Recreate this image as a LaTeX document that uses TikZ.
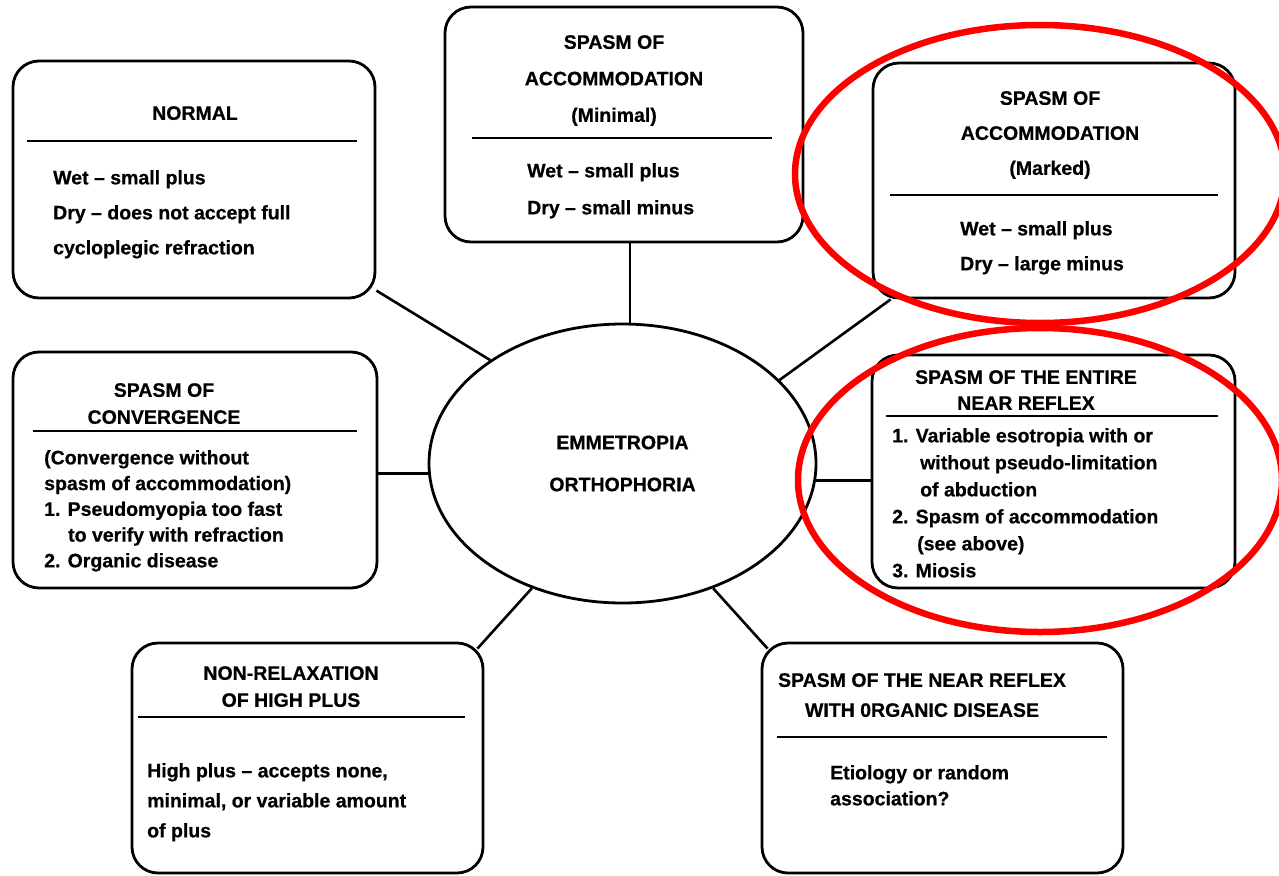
\documentclass[tikz,border=0pt]{standalone}
\usepackage{fontspec}
\setmainfont{Liberation Sans}[BoldFeatures={FakeBold=0.6}]
\usetikzlibrary{shapes.geometric}

\begin{document}
\begin{tikzpicture}[x=1pt,y=-1pt,
    card/.style={draw,line width=2.8pt,rounded corners=26pt,inner sep=0pt},
    head/.style={align=center,anchor=north,inner sep=0pt,font=\bfseries\fontsize{19.5}{#1}\selectfont},
    body/.style={align=left,anchor=north west,inner sep=0pt,font=\bfseries\fontsize{19.5}{#1}\selectfont},
    rule/.style={line width=2.6pt},
    link/.style={line width=2.6pt},
    redring/.style={draw=red,line width=6.5pt}
    ]
    \useasboundingbox[fill=white] (0,0) rectangle (1279,875);

    % centre
    \node[draw,ellipse,line width=2.8pt,minimum width=387pt,minimum height=279pt,inner sep=0pt,
      align=center,font=\bfseries\fontsize{19.5}{42}\selectfont] (emm) at (622.5,463.5) {EMMETROPIA\\ORTHOPHORIA};

    % boxes
    \node[card,minimum width=362pt,minimum height=237pt] (normal) at (194,179.5) {};
    \node[head=35] (normal-head) at (195,106) {NORMAL};
    \draw[rule] (27,141) -- (357,141);
    \node[body=35] (normal-body) at (53,170) {Wet -- small plus\\Dry -- does not accept full\\cycloplegic refraction};

    \node[card,minimum width=358pt,minimum height=235pt] (minimal) at (624,124.5) {};
    \node[head=36.5] (minimal-head) at (614,35) {SPASM OF\\ACCOMMODATION\\(Minimal)};
    \draw[rule] (472,138) -- (772,138);
    \node[body=37] (minimal-body) at (527,163) {Wet -- small plus\\Dry -- small minus};

    \node[card,minimum width=362pt,minimum height=235pt] (marked) at (1054,180.5) {};
    \node[head=35] (marked-head) at (1050,91) {SPASM OF\\ACCOMMODATION\\(Marked)};
    \draw[rule] (890,195) -- (1218,195);
    \node[body=35] (marked-body) at (960,221) {Wet -- small plus\\Dry -- large minus};

    \node[card,minimum width=364pt,minimum height=236pt] (conv) at (195,470) {};
    \node[head=27] (conv-head) at (164,383) {SPASM OF\\CONVERGENCE};
    \draw[rule] (33,431) -- (357,431);
    \node[body=25.75] (conv-body) at (44,450) {(Convergence without\\spasm of accommodation)\\1. Pseudomyopia too fast\\\hspace*{24pt}to verify with refraction\\2. Organic disease};

    \node[card,minimum width=363pt,minimum height=233pt] (entire) at (1053.5,471.5) {};
    \node[head=26] (entire-head) at (1026,370) {SPASM OF THE ENTIRE\\NEAR REFLEX};
    \draw[rule] (886,416) -- (1218,416);
    \node[body=27] (entire-body) at (892,428) {1. Variable esotropia with or\\\hspace*{28pt}without pseudo-limitation\\\hspace*{28pt}of abduction\\2. Spasm of accommodation\\\hspace*{25pt}(see above)\\3. Miosis};

    \node[card,minimum width=351pt,minimum height=230pt] (nonrelax) at (307.5,758) {};
    \node[head=27] (nonrelax-head) at (291,666) {NON-RELAXATION\\OF HIGH PLUS};
    \draw[rule] (138,717) -- (465,717);
    \node[body=30] (nonrelax-body) at (147,763) {High plus -- accepts none,\\minimal, or variable amount\\of plus};

    \node[card,minimum width=361pt,minimum height=230pt] (organic) at (942.5,758) {};
    \node[head=30] (organic-head) at (922,673) {SPASM OF THE NEAR REFLEX\\WITH 0RGANIC DISEASE};
    \draw[rule] (777,737) -- (1107,737);
    \node[body=26] (organic-body) at (830,765) {Etiology or random\\association?};

    % spokes
    \draw[link] (emm.142) -- (normal);
    \draw[link] ([xshift=6]minimal.south) -- ([xshift=6]minimal.south |- emm.north);
    \draw[link] (emm.28) -- (marked);
    \draw[link] (emm.183) -- (emm.183 -| conv.east);
    \draw[link] (emm.355) -- (emm.355 -| entire.west);
    \draw[link] (emm.234) -- ([shift={(-7,7)}]nonrelax.north east);
    \draw[link] (emm.306) -- ([shift={(7,7)}]organic.north west);

    % red marks
    \draw[redring] (1040,174) ellipse [x radius=245, y radius=149];
    \draw[redring] (1040,480) ellipse [x radius=242, y radius=152];
  \end{tikzpicture}
\end{document}
